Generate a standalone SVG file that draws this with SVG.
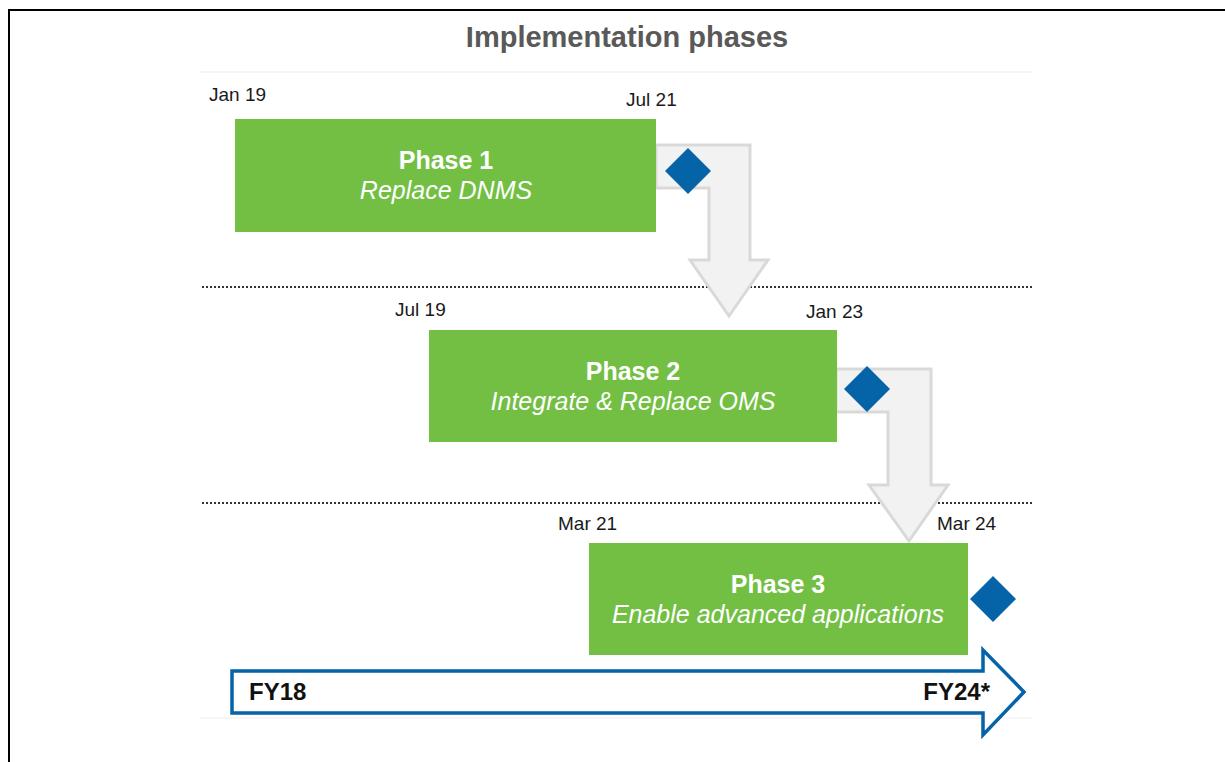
<svg xmlns="http://www.w3.org/2000/svg" width="1225" height="762" viewBox="0 0 1225 762">
  <style>
    .title { font-family: "Liberation Sans", Arial, sans-serif; font-weight: bold; font-size: 29px; fill: #595959; }
    .date { font-family: "Liberation Sans", Arial, sans-serif; font-size: 19px; fill: #1a1a1a; }
    .phase { fill: #72bf44; }
    .ph-name { font-family: "Liberation Sans", Arial, sans-serif; font-weight: bold; font-size: 25px; fill: #ffffff; text-anchor: middle; }
    .ph-desc { font-family: "Liberation Sans", Arial, sans-serif; font-style: italic; font-size: 25px; fill: #ffffff; text-anchor: middle; }
    .flow { fill: #f2f2f2; stroke: #d9d9d9; stroke-width: 3; stroke-linejoin: miter; }
    .milestone { fill: #0563a8; }
    .sep { stroke: #333333; stroke-width: 2; stroke-dasharray: 2 2; fill: none; }
    .rule { stroke: #f3f3f3; stroke-width: 1.5; fill: none; }
    .fy { font-family: "Liberation Sans", Arial, sans-serif; font-weight: bold; font-size: 24px; fill: #111111; }
  </style>

  <!-- frame -->
  <path d="M9 762 V10 H1225" fill="none" stroke="#000000" stroke-width="2"/>

  <!-- heading -->
  <text class="title" x="627" y="47" text-anchor="middle">Implementation phases</text>
  <line class="rule" x1="200" y1="72" x2="1032" y2="72"/>
  <line class="rule" x1="200" y1="718" x2="1032" y2="718"/>

  <!-- row separators -->
  <line class="sep" x1="202" y1="287" x2="1032" y2="287"/>
  <line class="sep" x1="202" y1="503" x2="1032" y2="503"/>

  <!-- hand-off arrows between phases -->
  <g id="connectors">
    <path class="flow" d="M656 145 H750 V260 H768 L729 316 L690 260 H709 V188 H656 Z"/>
    <path class="flow" d="M836 369 H931 V485 H948 L909 541 L869 485 H888 V412 H836 Z"/>
  </g>

  <g id="phase1">
    <rect class="phase" x="235" y="119" width="421" height="113"/>
    <text class="ph-name" x="446" y="169">Phase 1</text>
    <text class="ph-desc" x="446" y="199">Replace DNMS</text>
    <text class="date" x="209" y="101">Jan 19</text>
    <text class="date" x="626" y="106">Jul 21</text>
    <path class="milestone" d="M688 148 L711 171 L688 194 L665 171 Z"/>
  </g>

  <g id="phase2">
    <rect class="phase" x="429" y="330" width="408" height="112"/>
    <text class="ph-name" x="633" y="380">Phase 2</text>
    <text class="ph-desc" x="633" y="410">Integrate &amp; Replace OMS</text>
    <text class="date" x="395" y="316">Jul 19</text>
    <text class="date" x="806" y="318">Jan 23</text>
    <path class="milestone" d="M867 366 L890 389 L867 412 L844 389 Z"/>
  </g>

  <g id="phase3">
    <rect class="phase" x="589" y="543" width="379" height="112"/>
    <text class="ph-name" x="778" y="593">Phase 3</text>
    <text class="ph-desc" x="778" y="623">Enable advanced applications</text>
    <text class="date" x="558" y="530">Mar 21</text>
    <text class="date" x="937" y="530">Mar 24</text>
    <path class="milestone" d="M993 576 L1016 599 L993 622 L970 599 Z"/>
  </g>

  <!-- fiscal-year timeline -->
  <g id="timeline">
    <path d="M232 671 H983 V650 L1024 692 L983 735 V713 H232 Z" fill="#ffffff" stroke="#0563a8" stroke-width="3.5"/>
    <text class="fy" x="249" y="700">FY18</text>
    <text class="fy" x="990" y="700" text-anchor="end">FY24*</text>
  </g>
</svg>
